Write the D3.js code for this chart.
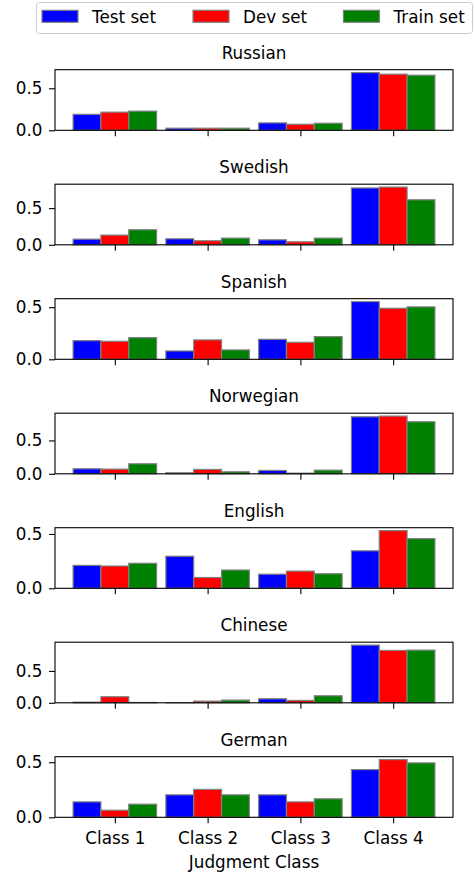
<!DOCTYPE html>
<html><head><meta charset="utf-8">
<script src="https://cdn.jsdelivr.net/npm/d3@7"></script>
<style>html,body{margin:0;padding:0;background:#fff;}svg{display:block;}</style>
</head><body>
<script>
const categories = ["Class 1", "Class 2", "Class 3", "Class 4"];
const seriesNames = ["Test set", "Dev set", "Train set"];
const seriesColors = ["#0000ff", "#ff0000", "#008000"];
const languages = ["Russian", "Swedish", "Spanish", "Norwegian", "English", "Chinese", "German"];
const yTicks = [0, 0.5];
// values[language] = [Test, Dev, Train] each across the 4 classes
const russian   = [[0.19, 0.025, 0.088, 0.687], [0.216, 0.025, 0.072, 0.668], [0.228, 0.025, 0.084, 0.656]];
const swedish   = [[0.077, 0.082, 0.068, 0.775], [0.132, 0.055, 0.041, 0.787], [0.205, 0.091, 0.091, 0.614]];
const spanish   = [[0.179, 0.080, 0.192, 0.554], [0.173, 0.186, 0.163, 0.490], [0.208, 0.090, 0.218, 0.503]];
const norwegian = [[0.075, 0.015, 0.050, 0.855], [0.070, 0.065, 0.010, 0.865], [0.150, 0.030, 0.055, 0.780]];
const english   = [[0.211, 0.295, 0.130, 0.345], [0.205, 0.099, 0.158, 0.531], [0.230, 0.168, 0.134, 0.457]];
const chinese   = [[0.010, 0.003, 0.063, 0.905], [0.095, 0.026, 0.037, 0.821], [0.005, 0.042, 0.110, 0.826]];
const german    = [[0.140, 0.204, 0.204, 0.433], [0.064, 0.253, 0.140, 0.524], [0.119, 0.204, 0.168, 0.494]];
const panelValues = [russian, swedish, spanish, norwegian, english, chinese, german];

const W = 474, H = 874;
const FONT = "'DejaVu Sans', sans-serif";
const FS = 16.8;
const left = 55, right = 453;
const top0 = 69.7, step = 114.5, ph = 60.6;
const barW = 0.3;

const svg = d3.select("body").append("svg").attr("width", W).attr("height", H)
  .style("font-family", FONT);

const x = d3.scaleLinear().domain([-0.645, 3.645]).range([left, right]);

languages.forEach((lang, li) => {
  const vals = panelValues[li];
  const maxV = d3.max(vals.flat());
  const t = top0 + li * step;
  const y = d3.scaleLinear().domain([0, maxV * 1.05]).range([t + ph, t]);
  const g = svg.append("g");

  vals.forEach((sv, si) => {
    g.selectAll(null).data(sv).enter().append("rect")
      .attr("x", (d, ci) => x(ci + (si - 1) * barW - barW / 2))
      .attr("width", x(barW) - x(0))
      .attr("y", d => y(d))
      .attr("height", d => y(0) - y(d))
      .attr("fill", seriesColors[si])
      .attr("stroke", "#808080")
      .attr("stroke-width", 1.2);
  });

  // frame
  g.append("rect").attr("x", left).attr("y", t).attr("width", right - left).attr("height", ph)
    .attr("fill", "none").attr("stroke", "#000").attr("stroke-width", 1.1);

  // y axis
  const ya = d3.axisLeft(y).tickValues(yTicks).tickFormat(d3.format(".1f")).tickSize(6).tickPadding(6.5);
  const yg = g.append("g").attr("transform", `translate(${left},0)`).call(ya);
  yg.select(".domain").remove();
  yg.selectAll("text").attr("font-size", FS).attr("font-family", FONT).attr("fill", "#000");
  yg.selectAll("line").attr("stroke", "#000").attr("stroke-width", 1.1);

  // x axis
  const xa = d3.axisBottom(x).tickValues(d3.range(categories.length))
    .tickFormat(li === languages.length - 1 ? (d => categories[d]) : () => "")
    .tickSize(6).tickPadding(8.5);
  const xg = g.append("g").attr("transform", `translate(0,${t + ph})`).call(xa);
  xg.select(".domain").remove();
  xg.selectAll("text").attr("font-size", FS).attr("font-family", FONT).attr("fill", "#000");
  xg.selectAll("line").attr("stroke", "#000").attr("stroke-width", 1.1);

  // title
  g.append("text").attr("x", (left + right) / 2).attr("y", t - 11)
    .attr("text-anchor", "middle").attr("font-size", FS).attr("fill", "#000").text(lang);
});

// x label
svg.append("text").attr("x", (left + right) / 2).attr("y", 867.5)
  .attr("text-anchor", "middle").attr("font-size", FS).attr("fill", "#000").text("Judgment Class");

// legend
const lg = svg.append("g");
lg.append("rect").attr("x", 36.5).attr("y", 2.5).attr("width", 436).attr("height", 31)
  .attr("rx", 3).attr("fill", "#fff").attr("stroke", "#cccccc").attr("stroke-width", 1);
const legX = [42, 193, 343.5];
seriesNames.forEach((n, i) => {
  lg.append("rect").attr("x", legX[i]).attr("y", 10.3).attr("width", 36).attr("height", 12)
    .attr("fill", seriesColors[i]).attr("stroke", "#808080").attr("stroke-width", 1.2);
  lg.append("text").attr("x", legX[i] + 50).attr("y", 22.5).attr("font-size", FS)
    .attr("fill", "#000").text(n);
});
</script>
</body></html>
